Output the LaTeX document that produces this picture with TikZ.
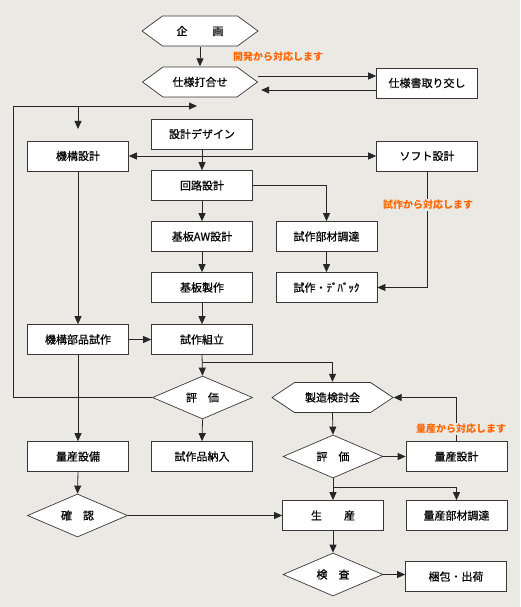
\documentclass[tikz,border=0pt]{standalone}
\usepackage{fontspec}
\newfontfamily\jp[FakeBold=0.6]{Noto Sans CJK JP}
\newfontfamily\jpn{Noto Sans CJK JP}
\usetikzlibrary{arrows.meta,shapes.geometric,calc}
\definecolor{bg}{RGB}{235,233,228}
\definecolor{lc}{RGB}{55,55,55}
\definecolor{og}{RGB}{255,102,0}
\tikzset{
  box/.style={draw=lc, line width=0.7pt, fill=white, minimum width=101pt, minimum height=30pt, inner sep=0pt, font=\jp\fontsize{11}{13}\selectfont},
  dia/.style={diamond, draw=lc, line width=0.7pt, fill=white, minimum width=100pt, minimum height=43pt, inner sep=0pt, aspect=2.3, font=\jp\fontsize{11}{13}\selectfont},
  hexa/.style 2 args={minimum width=#1, minimum height=31pt, inner sep=0pt, fill=bg, font=\jp\fontsize{11}{13}\selectfont,
    path picture={\draw[line width=0.7pt, draw=lc, fill=white]
      ([xshift=0.5pt]path picture bounding box.west)
      -- ([xshift=#2,yshift=-0.5pt]path picture bounding box.north west)
      -- ([xshift=-#2,yshift=-0.5pt]path picture bounding box.north east)
      -- ([xshift=-0.5pt]path picture bounding box.east)
      -- ([xshift=-#2,yshift=0.5pt]path picture bounding box.south east)
      -- ([xshift=#2,yshift=0.5pt]path picture bounding box.south west)
      -- cycle;}},
  arr/.style={draw=black!85, line width=0.8pt, -{Triangle[length=8pt,width=7pt]}},
  ln/.style={draw=black!85, line width=0.8pt},
  note/.style={fill=bg, text=og, inner sep=1pt, font=\jpn\bfseries\fontsize{10}{12}\selectfont}
}
\begin{document}
\begin{tikzpicture}[x=1pt,y=-1pt]
\fill[bg] (0,0) rectangle (520,607);
\useasboundingbox (0,0) rectangle (520,607);

% nodes
\node[hexa={117pt}{21pt}] (kikaku) at (200,31) {企\hspace{25pt}画};
\node[hexa={116pt}{21pt}] (uchi) at (200,82) {仕様打合せ};
\node[box] (tori) at (427,83) {仕様書取り交し};
\node[box] (design) at (202,134) {設計デザイン};
\node[box] (kikou) at (78,156) {機構設計};
\node[box] (soft) at (427,156) {ソフト設計};
\node[box] (kairo) at (202,185.5) {回路設計};
\node[box] (kibanaw) at (202,236.5) {基板AW設計};
\node[box] (buzai) at (326.5,236.5) {試作部材調達};
\node[box] (kibansei) at (202,287.5) {基板製作};
\node[box] (debug) at (326.5,287.5) {試作・ﾃﾞﾊﾞｯｸ};
\node[box] (buhin) at (78,339.5) {機構部品試作};
\node[box] (kumitate) at (202,339.5) {試作組立};
\node[dia] (hyoka1) at (202.5,397.5) {評\hspace{11pt}価};
\node[hexa={122pt}{23pt}] (seizo) at (332.5,397.5) {製造検討会};
\node[box] (setsubi) at (78,456.5) {量産設備};
\node[box] (nounyu) at (202,456.5) {試作品納入};
\node[dia] (hyoka2) at (333,456.5) {評\hspace{11pt}価};
\node[box] (rsekkei) at (456.5,456.5) {量産設計};
\node[dia] (kakunin) at (77.5,515.5) {確\hspace{11pt}認};
\node[box] (seisan) at (333,515.5) {生\hspace{22pt}産};
\node[box] (rbuzai) at (456.5,515.5) {量産部材調達};
\node[dia] (kensa) at (333,574.5) {検\hspace{11pt}査};
\node[box] (konpo) at (456,576.5) {梱包・出荷};

% connectors
\draw[arr] (kikaku.south) -- (uchi.north);
\coordinate (u1) at ($(uchi.east)+(0,-6)$);
\draw[arr] (u1) -- (u1 -| tori.west);
\coordinate (u2) at ($(tori.west)+(0,7)$);
\draw[arr] (u2) -- ($(u2 -| uchi.east)+(3,0)$);

\coordinate (fbL) at (13,106);
\coordinate (fbE) at (197,106);
\draw[arr] (hyoka1.west) -| (fbL) -- (fbE);
\coordinate (d1) at (78,107);
\coordinate (d2) at (78,129);
\draw[arr] (d1) -- (d2);

\draw[ln, {Triangle[length=8pt,width=7pt]}-{Triangle[length=8pt,width=7pt]}] (kikou.east) -- (soft.west);
\draw[arr] (design.south) -- (kairo.north);
\draw[arr] (kairo.east) -| (buzai.north);
\draw[arr] (soft.south) |- (debug.east);
\draw[arr] (kairo.south) -- (kibanaw.north);
\draw[arr] (kibanaw.south) -- (kibansei.north);
\draw[arr] (buzai.south) -- (debug.north);
\draw[arr] (kibansei.south) -- (kumitate.north);
\draw[arr] (kikou.south) -- (buhin.north);
\draw[arr] (buhin.east) -- (kumitate.west);
\draw[arr] (buhin.south) -- (setsubi.north);
\draw[arr] (kumitate.south) -- (hyoka1.north);
\coordinate (br1) at ($(kumitate.south)+(0,8)$);
\draw[arr] (br1) -| (seizo.north);
\draw[arr] (hyoka1.south) -- (nounyu.north);
\draw[arr] (seizo.south) -- (hyoka2.north);
\draw[arr] (hyoka2.east) -- (rsekkei.west);
\draw[arr] (rsekkei.north) |- (seizo.east);
\draw[arr] (hyoka2.south) -- (seisan.north);
\coordinate (br2) at ($(hyoka2.south)+(0,9)$);
\draw[arr] (br2) -| (rbuzai.north);
\draw[arr] (setsubi.south) -- (kakunin.north);
\draw[arr] (kakunin.east) -- (kakunin.east -| seisan.west);
\draw[arr] (seisan.south) -- (kensa.north);
\draw[arr] (kensa.east) -- (kensa.east -| konpo.west);

% notes
\node[note] (n1) at (278,57) {開発から対応します};
\node[note] (n2) at (428,205) {試作から対応します};
\node[note] (n3) at (461,429) {量産から対応します};
\end{tikzpicture}
\end{document}
